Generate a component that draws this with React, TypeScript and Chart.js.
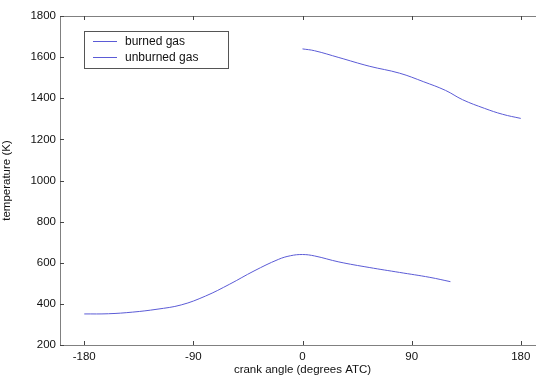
import React, { useEffect, useRef } from "react";
import { Chart, registerables } from "chart.js";

Chart.register(...registerables);

const seriesLabels = ["burned gas", "unburned gas"];
const burnedAngle = [0, 10, 30, 55, 80, 100, 118, 132, 150, 165, 180];
const burnedTemp = [1640, 1631, 1598, 1556, 1522, 1480, 1438, 1393, 1351, 1322, 1302];
const unburnedAngle = [-180, -160, -140, -120, -100, -80, -60, -40, -20, -10, 0, 10, 30, 55, 80, 105, 122];
const unburnedTemp = [351, 352, 360, 374, 395, 438, 496, 560, 616, 634, 640, 633, 604, 577, 553, 529, 508];
const xTicks = [-180, -90, 0, 90, 180];
const yTicks = [200, 400, 600, 800, 1000, 1200, 1400, 1600, 1800];
const xTitle = "crank angle (degrees ATC)";
const yTitle = "temperature (K)";

const LINE = "#5b5bd6";
const AXIS = "#808080";
const FONT = "'Liberation Sans', Arial, sans-serif";

const toPts = (xs: number[], ys: number[]) => xs.map((x, i) => ({ x, y: ys[i] }));

const decorPlugin = {
  id: "decor",
  afterDraw(chart: any) {
    const { ctx, chartArea, scales } = chart;
    const { left, right, top, bottom } = chartArea;
    ctx.save();
    ctx.strokeStyle = AXIS;
    ctx.lineWidth = 1;
    ctx.beginPath();
    ctx.moveTo(left, Math.round(top) + 0.5);
    ctx.lineTo(right, Math.round(top) + 0.5);
    ctx.stroke();
    ctx.strokeStyle = "#444";
    scales.x.ticks.forEach((t: any) => {
      const px = Math.round(scales.x.getPixelForValue(t.value)) + 0.5;
      ctx.beginPath();
      ctx.moveTo(px, bottom);
      ctx.lineTo(px, bottom - 4);
      ctx.moveTo(px, top);
      ctx.lineTo(px, top + 4);
      ctx.stroke();
    });
    scales.y.ticks.forEach((t: any) => {
      const py = Math.round(scales.y.getPixelForValue(t.value)) + 0.5;
      ctx.beginPath();
      ctx.moveTo(left, py);
      ctx.lineTo(left + 4, py);
      ctx.stroke();
    });
    const bx = 84.5, by = 31.5, bw = 144, bh = 37;
    ctx.fillStyle = "#fff";
    ctx.fillRect(bx, by, bw, bh);
    ctx.strokeStyle = "#555";
    ctx.strokeRect(bx, by, bw, bh);
    ctx.font = `12px ${FONT}`;
    ctx.textBaseline = "middle";
    ctx.textAlign = "left";
    chart.data.datasets.forEach((ds: any, i: number) => {
      const y = 41.5 + i * 16;
      ctx.strokeStyle = ds.borderColor;
      ctx.beginPath();
      ctx.moveTo(93, y);
      ctx.lineTo(117, y);
      ctx.stroke();
      ctx.fillStyle = "#111";
      ctx.fillText(ds.label, 125, y);
    });
    ctx.restore();
  },
};

export default function App() {
  const ref = useRef<HTMLCanvasElement>(null);
  useEffect(() => {
    if (!ref.current) return;
    const chart = new Chart(ref.current, {
      type: "scatter",
      data: {
        datasets: [
          {
            label: seriesLabels[0],
            data: toPts(burnedAngle, burnedTemp),
            showLine: true,
            borderColor: LINE,
            borderWidth: 1,
            pointRadius: 0,
            tension: 0.4,
          },
          {
            label: seriesLabels[1],
            data: toPts(unburnedAngle, unburnedTemp),
            showLine: true,
            borderColor: LINE,
            borderWidth: 1,
            pointRadius: 0,
            tension: 0.4,
          },
        ],
      },
      options: {
        responsive: false,
        animation: false,
        layout: { padding: { top: 16, right: 1, left: 0, bottom: 0 } },
        plugins: { legend: { display: false }, tooltip: { enabled: false } },
        scales: {
          x: {
            type: "linear",
            min: -200,
            max: 200,
            afterBuildTicks: (s: any) => {
              s.ticks = xTicks.map((v) => ({ value: v }));
            },
            afterFit: (s: any) => {
              s.height = 32;
            },
            grid: { display: true, drawOnChartArea: false, drawTicks: false },
            border: { display: true, color: AXIS, width: 1 },
            ticks: {
              color: "#111",
              font: { family: FONT, size: 11.5 },
              padding: 5,
              maxRotation: 0,
              callback: (v: any) => String(v),
            },
            title: {
              display: true,
              text: xTitle,
              color: "#111",
              font: { family: FONT, size: 11.5 },
              padding: { top: 0, bottom: 0 },
            },
          },
          y: {
            type: "linear",
            min: 200,
            max: 1800,
            afterBuildTicks: (s: any) => {
              s.ticks = yTicks.map((v) => ({ value: v }));
            },
            afterFit: (s: any) => {
              s.width = 60;
            },
            grid: { display: true, drawOnChartArea: false, drawTicks: false },
            border: { display: true, color: AXIS, width: 1 },
            ticks: {
              color: "#111",
              font: { family: FONT, size: 11.5 },
              padding: 4,
              callback: (v: any) => String(v),
            },
            title: {
              display: true,
              text: yTitle,
              color: "#111",
              font: { family: FONT, size: 11.5 },
              padding: { top: 0, bottom: 0 },
            },
          },
        },
      },
      plugins: [decorPlugin],
    } as any);
    return () => chart.destroy();
  }, []);
  return (
    <div
      style={{
        position: "fixed",
        left: 0,
        top: 0,
        width: 536,
        height: 377,
        overflow: "hidden",
        background: "#fff",
      }}
    >
      <canvas ref={ref} width={546} height={377} style={{ display: "block" }} />
    </div>
  );
}
